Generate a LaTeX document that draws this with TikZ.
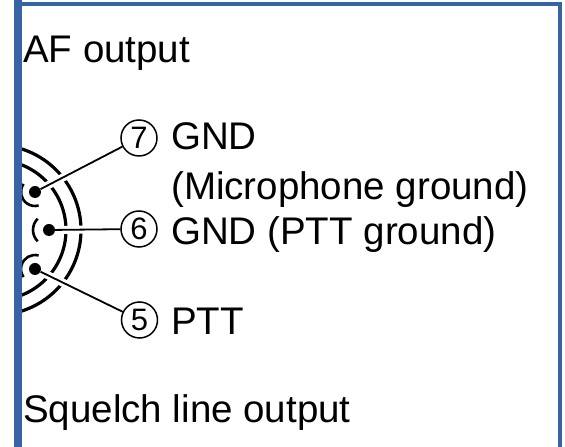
\documentclass[tikz,border=0pt]{standalone}
\usepackage{fontspec}
\setmainfont{Liberation Sans}
\definecolor{frameblue}{RGB}{54,100,165}

\begin{document}
\begin{tikzpicture}
[
    x = 1pt, y = 1pt,
    txt/.style = {anchor = base west, inner sep = 0pt, font = \fontsize{38.5}{46}\selectfont},
    num/.style = {circle, draw, line width = 1.5pt, minimum size = 36pt, inner sep = 0pt, font = \fontsize{31}{34}\selectfont},
    pin/.style = {circle, fill, minimum size = 12pt, inner sep = 0pt},
    ring/.style = {line width = 3.2pt},
    socket/.style = {line width = 2.6pt},
    halo/.style = {draw = white, line width = 8pt, shorten > = 2pt},
    lead/.style = {line width = 1.8pt},
]
\useasboundingbox (0,0) rectangle (565,447);

% plug face, seen from the front
\begin{scope}
    \clip (22,0) rectangle (565,447);
    \draw[ring] (-4,217) ++(90:85) arc[start angle = 90, end angle = -90, radius = 85];
    \draw[ring] (-4,217) ++(90:70) arc[start angle = 90, end angle = -90, radius = 70];
    \node[pin] (p7) at (35,255) {};
    \node[pin] (p6) at (49,217) {};
    \node[pin] (p5) at (35,178) {};
    \draw[socket] (p7.center) ++(145:14) arc[start angle = 145, end angle = 285, radius = 14];
    \draw[socket] (p6.center) ++(135:16) arc[start angle = 135, end angle = 225, radius = 16];
    \draw[socket] (p5.center) ++(75:14) arc[start angle = 75, end angle = 215, radius = 14];
\end{scope}

% pin numbers
\node[num] (n7) at (139,309) {7};
\node[num] (n6) at (139,218) {6};
\node[num] (n5) at (139.5,127) {5};

\foreach \i in {7,6,5} {
    \draw[halo] (p\i) -- (n\i);
    \draw[lead] (p\i) -- (n\i);
}

% labels
\node[txt] (af) at (23,384) {AF output};
\node[txt] (gnd7) at (171,297) {GND};
\node[txt] (mic) at (171,247) {(Microphone ground)};
\node[txt] (gnd6) at (171,202) {GND (PTT ground)};
\node[txt] (ptt) at (171,112) {PTT};
\node[txt] (sql) at (23,24) {Squelch line output};

% frame
\fill[frameblue] (14,0) rectangle (22,447);
\fill[frameblue] (14,441) rectangle (562,445);
\fill[frameblue] (558,0) rectangle (562,445);
\end{tikzpicture}
\end{document}
